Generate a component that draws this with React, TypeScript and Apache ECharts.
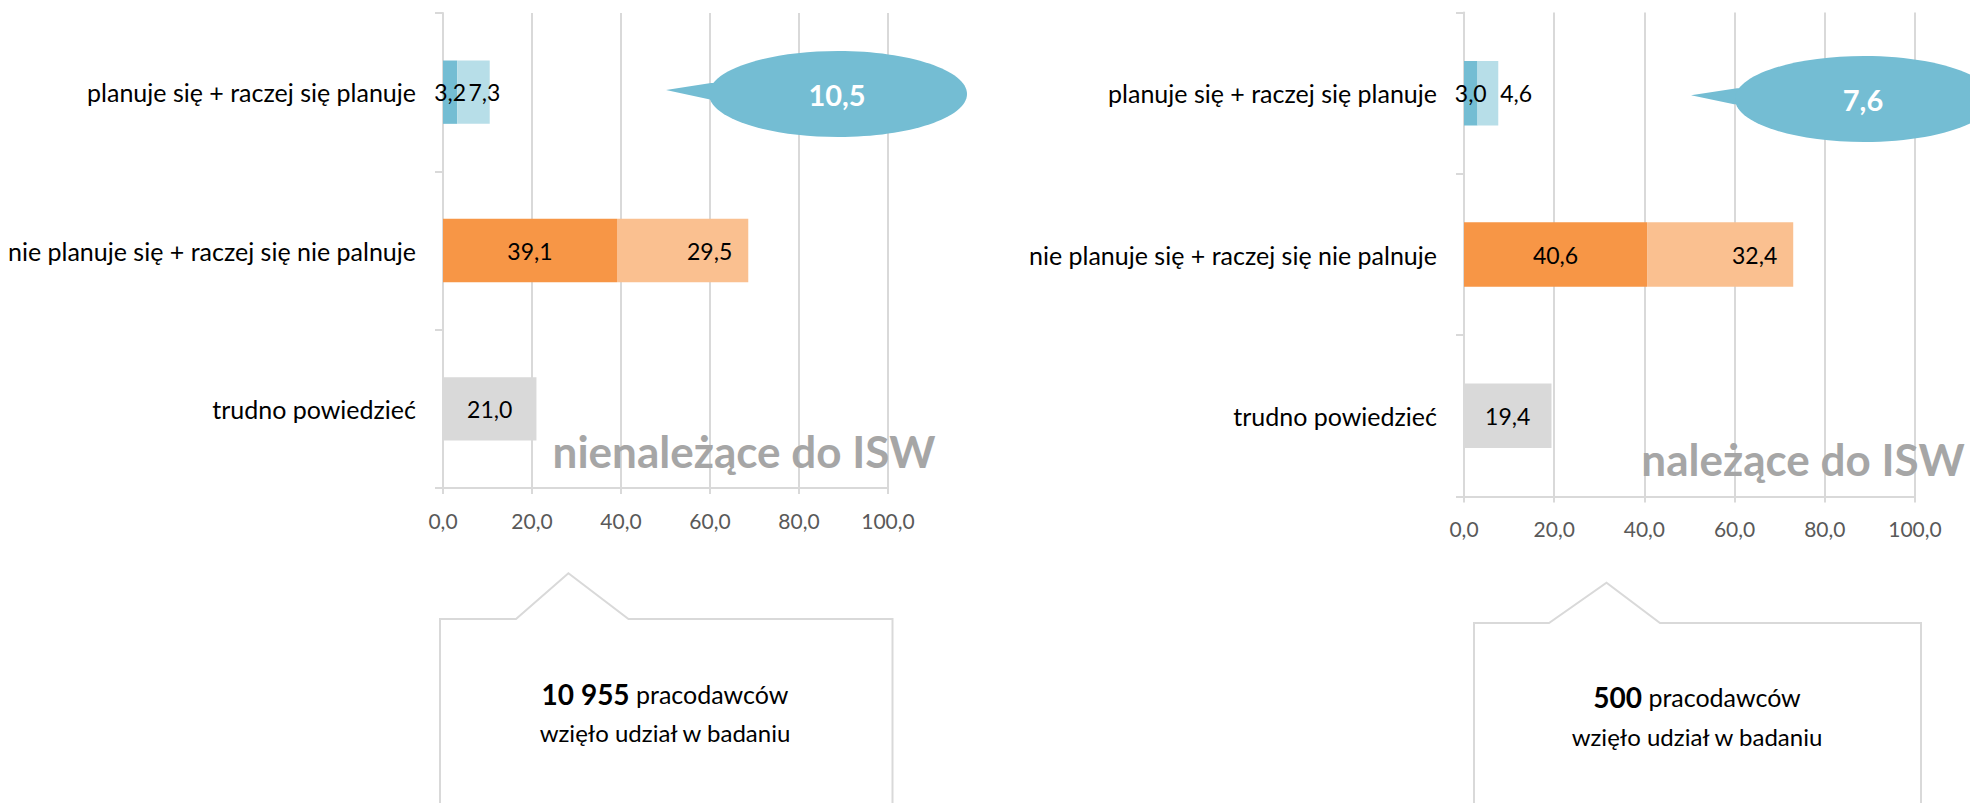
import React, { useEffect, useRef } from "react";
import * as echarts from "echarts";

// ---- data ----
const categories = [
  "planuje się + raczej się planuje",
  "nie planuje się + raczej się nie palnuje",
  "trudno powiedzieć",
];
const nonIswFirst = [3.2, 39.1, 21.0];
const nonIswSecond: (number | null)[] = [7.3, 29.5, null];
const iswFirst = [3.0, 40.6, 19.4];
const iswSecond: (number | null)[] = [4.6, 32.4, null];
const plannedTotals = [10.5, 7.6];
const panelTitles = ["nienależące do ISW", "należące do ISW"];
const respondentCounts = ["10 955", "500"];
const respondentText = ["pracodawców", "wzięło udział w badaniu"];

// ---- styles ----
const FONT = 'Lato, "Open Sans", sans-serif';
const C_BLUE = "#74BDD3";
const C_BLUE_L = "#B7DEE8";
const C_ORANGE = "#F79646";
const C_ORANGE_L = "#FAC090";
const C_GRAY = "#D9D9D9";
const C_GRID = "#D9D9D9";
const firstColors = [C_BLUE, C_ORANGE, C_GRAY];
const secondColors = [C_BLUE_L, C_ORANGE_L, C_GRAY];

const fmt = (v: number) => v.toFixed(1).replace(".", ",");

const panels = [
  {
    grid: { left: 443, top: 13, width: 445, height: 475 },
    first: nonIswFirst,
    second: nonIswSecond,
    secondLabels: [
      { position: "inside", offset: [11, 0] },
      { position: "insideRight", distance: 16 },
    ],
    axisMargin: 22,
  },
  {
    grid: { left: 1464, top: 12.5, width: 451, height: 484 },
    first: iswFirst,
    second: iswSecond,
    secondLabels: [
      { position: "right", distance: 2 },
      { position: "insideRight", distance: 16 },
    ],
    axisMargin: 21,
  },
];

function buildOption() {
  const grids: any[] = [];
  const xAxes: any[] = [];
  const yAxes: any[] = [];
  const series: any[] = [];
  panels.forEach((p, i) => {
    grids.push({ ...p.grid, containLabel: false });
    xAxes.push({
      type: "value",
      gridIndex: i,
      min: 0,
      max: 100,
      interval: 20,
      axisLine: { show: true, lineStyle: { color: C_GRID, width: 2 } },
      axisTick: { show: true, length: 6, lineStyle: { color: C_GRID, width: 2 } },
      splitLine: { show: true, lineStyle: { color: C_GRID, width: 2 } },
      axisLabel: {
        formatter: (v: number) => fmt(v),
        color: "#595959",
        fontFamily: FONT,
        fontSize: 21,
        margin: p.axisMargin,
      },
    });
    yAxes.push({
      type: "category",
      gridIndex: i,
      inverse: true,
      data: categories,
      axisLine: { show: true, lineStyle: { color: C_GRID, width: 2 } },
      axisTick: { show: true, length: 8, lineStyle: { color: C_GRID, width: 2 } },
      axisLabel: {
        color: "#000",
        fontFamily: FONT,
        fontSize: 25,
        margin: 27,
      },
    });
    const labelBase = {
      show: true,
      color: "#000",
      fontFamily: FONT,
      fontSize: 23,
      formatter: (d: any) => fmt(d.value),
    };
    series.push({
      type: "bar",
      xAxisIndex: i,
      yAxisIndex: i,
      stack: "s" + i,
      barWidth: "40%",
      data: p.first.map((v, k) => ({
        value: v,
        itemStyle: { color: firstColors[k] },
      })),
      label: { ...labelBase, position: "inside" },
    });
    series.push({
      type: "bar",
      xAxisIndex: i,
      yAxisIndex: i,
      stack: "s" + i,
      barWidth: "40%",
      data: p.second.map((v, k) =>
        v == null
          ? "-"
          : {
              value: v,
              itemStyle: { color: secondColors[k] },
              label: { ...labelBase, ...(p.secondLabels[k] || {}) },
            }
      ),
      label: labelBase,
    });
  });

  const graphic: any[] = [];
  // callouts
  const callouts = [
    { cx: 838, cy: 94, tip: [666, 90], b1: [711, 83], b2: [710, 99.5] },
    { cx: 1864, cy: 99, tip: [1691, 95.3], b1: [1737, 88.3], b2: [1734, 104.3] },
  ];
  callouts.forEach((c, i) => {
    graphic.push({
      type: "polygon",
      z: 100,
      shape: { points: [c.tip, c.b1, [c.b1[0] + 20, c.b1[1]], [c.b2[0] + 20, c.b2[1]], c.b2] },
      style: { fill: C_BLUE },
    });
    graphic.push({
      type: "ellipse",
      z: 100,
      shape: { cx: c.cx, cy: c.cy, rx: 129, ry: 43 },
      style: { fill: C_BLUE },
    });
    graphic.push({
      type: "text",
      z: 101,
      x: c.cx - 1,
      y: c.cy,
      style: {
        text: fmt(plannedTotals[i]),
        fill: "#fff",
        font: `bold 29px ${FONT}`,
        align: "center",
        verticalAlign: "middle",
      },
    });
  });
  // watermarks
  const marks = [
    { x: 744, y: 451 },
    { x: 1803, y: 459 },
  ];
  marks.forEach((m, i) => {
    graphic.push({
      type: "text",
      z: 100,
      x: m.x,
      y: m.y,
      style: {
        text: panelTitles[i],
        fill: "#A6A6A6",
        font: `bold 44px ${FONT}`,
        align: "center",
        verticalAlign: "middle",
      },
    });
  });
  // bottom boxes
  const boxes = [
    { l: 440, r: 892.5, t: 619, b1: 516, px: 568.4, py: 573.3, b2: 628.5, cx: 665, y1: 694, y2: 732 },
    { l: 1474, r: 1921, t: 623, b1: 1549, px: 1606.5, py: 582.7, b2: 1660, cx: 1697, y1: 697, y2: 736 },
  ];
  boxes.forEach((bx, i) => {
    graphic.push({
      type: "polyline",
      z: 100,
      shape: {
        points: [
          [bx.l, 810],
          [bx.l, bx.t],
          [bx.b1, bx.t],
          [bx.px, bx.py],
          [bx.b2, bx.t],
          [bx.r, bx.t],
          [bx.r, 810],
        ],
      },
      style: { stroke: C_GRID, lineWidth: 2, fill: null },
    });
    graphic.push({
      type: "text",
      z: 100,
      x: bx.cx,
      y: bx.y1,
      style: {
        text: `{b|${respondentCounts[i]}}{r| ${respondentText[0]}}`,
        align: "center",
        verticalAlign: "middle",
        rich: {
          b: { font: `bold 28px ${FONT}`, fill: "#000" },
          r: { font: `25px ${FONT}`, fill: "#000" },
        },
      },
    });
    graphic.push({
      type: "text",
      z: 100,
      x: bx.cx,
      y: bx.y2,
      style: {
        text: respondentText[1],
        font: `24px ${FONT}`,
        fill: "#000",
        align: "center",
        verticalAlign: "middle",
      },
    });
  });

  return {
    animation: false,
    backgroundColor: "#fff",
    grid: grids,
    xAxis: xAxes,
    yAxis: yAxes,
    series,
    graphic,
  };
}

export default function App() {
  const ref = useRef<HTMLDivElement>(null);
  useEffect(() => {
    if (!ref.current) return;
    const chart = echarts.init(ref.current, undefined, { renderer: "svg" });
    chart.setOption(buildOption() as any);
    return () => chart.dispose();
  }, []);
  return (
    <div
      ref={ref}
      style={{ position: "absolute", left: 0, top: 0, width: 1970, height: 803 }}
    />
  );
}
